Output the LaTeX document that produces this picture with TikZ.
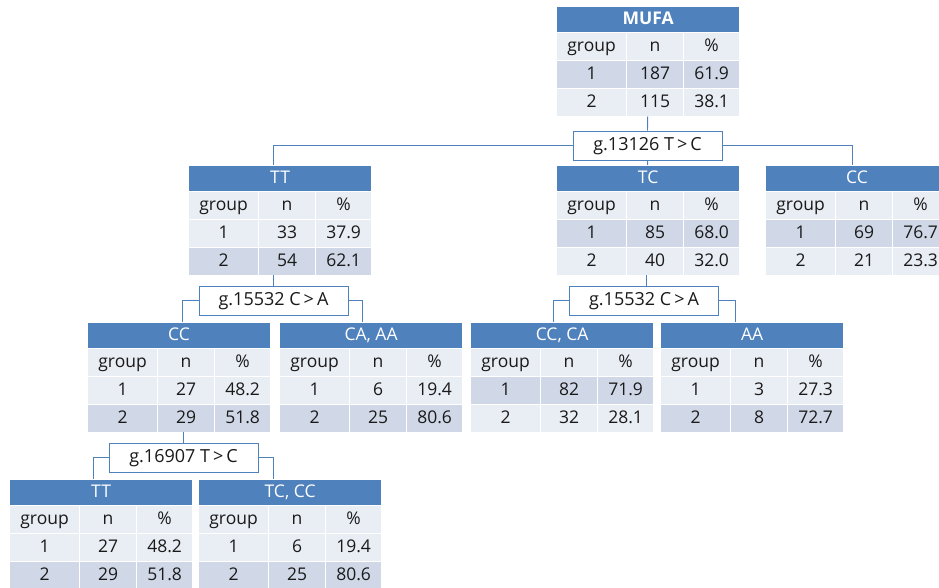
\documentclass[tikz,border=0pt]{standalone}
\usepackage{fontspec}
\setmainfont{Open Sans}
\definecolor{hdr}{HTML}{4F81BD}
\definecolor{rowlight}{HTML}{E9EDF4}
\definecolor{rowdark}{HTML}{D0D8E8}
\definecolor{txt}{HTML}{1A1A1A}
\tikzset{
  cellbox/.style={draw=white, line width=1.2pt, inner sep=0pt, anchor=north west,
    font=\fontsize{17.5}{19}\selectfont, text=txt, text height=12.5pt, text depth=3.5pt},
  hcell/.style={cellbox, fill=hdr, text=white},
  tabframe/.style={minimum width=183pt, minimum height=110pt, inner sep=0pt, anchor=north west},
  splitbox/.style={draw=hdr, line width=0.9pt, fill=white, minimum width=149pt,
    minimum height=29pt, inner sep=0pt, font=\fontsize{18}{20}\selectfont, text=txt,
    text height=12.5pt, text depth=3.5pt},
  conn/.style={draw=hdr, line width=0.9pt}
}
\newcommand\mycell[7]{%
  \node[cellbox, fill=#6, minimum width=#4pt, minimum height=#5pt] (#1) at (#2,#3) {#7};}
\newcommand\mytab[9]{%
  \ifnum#9=1 \def\rca{rowdark}\def\rcb{rowlight}\else\def\rca{rowlight}\def\rcb{rowdark}\fi
  \node[tabframe] (#1) at (#2,#3) {};
  \node[hcell, minimum width=183pt, minimum height=26pt] (#1-h) at (#2,#3) {#4};
  \mycell{#1-a1}{#2}{#3+26}{70}{28}{rowlight}{group}
  \mycell{#1-a2}{#2+70}{#3+26}{57}{28}{rowlight}{n}
  \mycell{#1-a3}{#2+127}{#3+26}{56}{28}{rowlight}{\%}
  \mycell{#1-b1}{#2}{#3+54}{70}{28}{\rca}{1}
  \mycell{#1-b2}{#2+70}{#3+54}{57}{28}{\rca}{#5}
  \mycell{#1-b3}{#2+127}{#3+54}{56}{28}{\rca}{#6}
  \mycell{#1-c1}{#2}{#3+82}{70}{28}{\rcb}{2}
  \mycell{#1-c2}{#2+70}{#3+82}{57}{28}{\rcb}{#7}
  \mycell{#1-c3}{#2+127}{#3+82}{56}{28}{\rcb}{#8}
}
\begin{document}
\begin{tikzpicture}[x=1pt,y=-1pt]
\useasboundingbox (0,0) rectangle (939,587);
\clip (0,0) rectangle (939,587);
\fill[white] (0,0) rectangle (939,587);
% tables
\mytab{mufa}{556}{6}{\textbf{MUFA}}{187}{61.9}{115}{38.1}{1}
\mytab{tt1}{188}{165}{TT}{33}{37.9}{54}{62.1}{0}
\mytab{tc1}{556}{165}{TC}{85}{68.0}{40}{32.0}{1}
\mytab{cc1}{765}{165}{CC}{69}{76.7}{21}{23.3}{1}
\mytab{cc2}{87}{322}{CC}{27}{48.2}{29}{51.8}{0}
\mytab{ca2}{279}{322}{CA, AA}{6}{19.4}{25}{80.6}{0}
\mytab{cca2}{470}{322}{CC, CA}{82}{71.9}{32}{28.1}{1}
\mytab{aa2}{660}{322}{AA}{3}{27.3}{8}{72.7}{0}
\mytab{tt3}{9}{479}{TT}{27}{48.2}{29}{51.8}{0}
\mytab{tcc3}{198}{479}{TC, CC}{6}{19.4}{25}{80.6}{0}
% split boxes
\node[splitbox] (g1) at (647.5,145.5) {g.13126 T\,>\,C};
\node[splitbox] (g2) at (273.5,300.5) {g.15532 C\,>\,A};
\node[splitbox] (g3) at (644,300.5) {g.15532 C\,>\,A};
\node[splitbox] (g4) at (183.5,457.5) {g.16907 T\,>\,C};
% connectors
\draw[conn] (mufa.south) -- (g1.north);
\draw[conn] (g1.west) -| ([xshift=-6.5pt]tt1.north);
\draw[conn] (g1.east) -| ([xshift=-4.5pt]cc1.north);
\draw[conn] (g1.south) -- (tc1.north);
\draw[conn] (g2.north |- tt1.south) -- (g2.north);
\draw[conn] (g2.west) -| ([xshift=4pt]cc2.north);
\draw[conn] (g2.east) -| ([xshift=-8pt]ca2.north);
\draw[conn] ([xshift=2pt]g3.north |- tc1.south) -- ([xshift=2pt]g3.north);
\draw[conn] (g3.west) -| ([xshift=-8pt]cca2.north);
\draw[conn] (g3.east) -| ([xshift=-16.5pt]aa2.north);
\draw[conn] (g4.north |- cc2.south) -- (g4.north);
\draw[conn] (g4.west) -| ([xshift=-7.5pt]tt3.north);
\draw[conn] (g4.east) -| ([xshift=-16.5pt]tcc3.north);
\end{tikzpicture}
\end{document}
